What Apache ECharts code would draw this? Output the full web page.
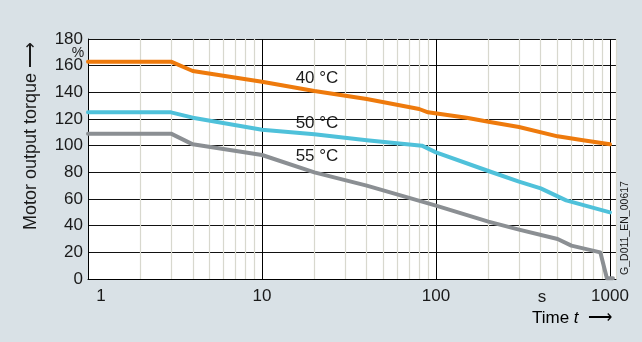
<!DOCTYPE html>
<html>
<head>
<meta charset="utf-8">
<script src="https://cdn.jsdelivr.net/npm/echarts@6/dist/echarts.min.js"></script>
<style>
html,body{margin:0;padding:0;background:#d9e1e6;}
#c{width:642px;height:342px;}
</style>
</head>
<body>
<div id="c"></div>
<script>
// ---- data ----
const xTickLabels = [1, 10, 100, 1000];
const yTickLabels = [0, 20, 40, 60, 80, 100, 120, 140, 160, 180];
const minorGridTimes = [2,3,4,5,6,7,8,9,20,30,40,50,60,70,80,90,200,300,400,500,600,700,800,900];
const seriesNames = ['40 °C', '50 °C', '55 °C'];

const time40   = [1, 3, 4, 10, 20, 40, 80, 90, 150, 200, 300, 500, 700, 1000];
const torque40 = [163, 163, 156, 148, 141, 135, 127.5, 125, 121, 118, 114, 107, 104, 101];

const time50   = [1, 3, 4, 10, 20, 40, 83, 100, 200, 300, 400, 560, 1000];
const torque50 = [125, 125, 121, 112, 108.5, 104, 100, 95, 81, 73, 68, 59, 50];

const time55   = [1, 3, 4, 10, 20, 40, 100, 200, 300, 500, 600, 880, 960, 1040];
const torque55 = [109, 109, 101, 93, 80, 70, 55, 43, 37, 30, 25, 20, 0.6, 0.6];

const pairs = (xs, ys) => xs.map((x, i) => [x, ys[i]]);

const chart = echarts.init(document.getElementById('c'), null, {renderer: 'canvas'});
const font = 'Liberation Sans, Arial, sans-serif';
const txt = '#1a1a1a';

function lineSeries(name, data, color) {
  return {
    name: name, type: 'line', data: data, showSymbol: false, z: 5,
    lineStyle: {color: color, width: 4, cap: 'round', join: 'round'},
    silent: true
  };
}

chart.setOption({
  backgroundColor: '#d9e1e6',
  animation: false,
  grid: {left: 88, right: 26, top: 39, bottom: 63, show: true, backgroundColor: '#ffffff', borderWidth: 0},
  xAxis: {
    type: 'log', logBase: 10, min: 1, max: 1083,
    axisLine: {show: true, lineStyle: {color: '#000', width: 1}},
    axisTick: {show: false},
    splitLine: {show: true, lineStyle: {color: '#000', width: 1}},
    axisLabel: {
      color: txt, fontSize: 17, fontFamily: font, margin: 9,
      showMaxLabel: false,
      formatter: function (v) {
        if (xTickLabels.indexOf(v) < 0) return '';
        return v === 1 ? '{a|1}' : String(v);
      },
      rich: {a: {fontSize: 17, fontFamily: font, color: txt, padding: [0, 0, 0, 26]}}
    }
  },
  yAxis: {
    type: 'value', min: 0, max: 180, interval: 20,
    axisLine: {show: true, lineStyle: {color: '#000', width: 1}},
    axisTick: {show: false},
    splitLine: {show: true, lineStyle: {color: '#111', width: 1}},
    axisLabel: {color: txt, fontSize: 17, fontFamily: font, margin: 5,
      formatter: function (v) { return yTickLabels.indexOf(v) >= 0 ? String(v) : ''; }}
  },
  series: [
    {
      type: 'line', data: [[1, 0]], showSymbol: false, z: 1, silent: true,
      lineStyle: {opacity: 0},
      markLine: {
        silent: true, symbol: ['none', 'none'], animation: false,
        label: {show: false},
        lineStyle: {color: '#d8d8ce', width: 1.2, type: 'solid'},
        data: minorGridTimes.concat([1083]).map(v => ({xAxis: v}))
      }
    },
    lineSeries(seriesNames[0], pairs(time40, torque40), '#ee7a0c'),
    lineSeries(seriesNames[1], pairs(time50, torque50), '#4fc1da'),
    lineSeries(seriesNames[2], pairs(time55, torque55), '#8b8f93')
  ],
  graphic: [
    {type: 'text', x: 31, y: 136, rotation: Math.PI / 2,
     style: {text: 'Motor output torque ⟶', font: '18px ' + font, fill: txt, align: 'center', verticalAlign: 'middle'}},
    {type: 'text', x: 78, y: 53,
     style: {text: '%', font: '14px ' + font, fill: txt, align: 'center', verticalAlign: 'middle'}},
    {type: 'text', x: 317, y: 78,
     style: {text: seriesNames[0], font: '17px ' + font, fill: txt, align: 'center', verticalAlign: 'middle'}},
    {type: 'text', x: 317, y: 123,
     style: {text: seriesNames[1], font: '17px ' + font, fill: txt, align: 'center', verticalAlign: 'middle'}},
    {type: 'text', x: 317, y: 156,
     style: {text: seriesNames[2], font: '17px ' + font, fill: txt, align: 'center', verticalAlign: 'middle'}},
    {type: 'text', x: 542, y: 297,
     style: {text: 's', font: '17px ' + font, fill: txt, align: 'center', verticalAlign: 'middle'}},
    {type: 'text', x: 612, y: 318,
     style: {text: '{n|Time }{i|t}{n|  ⟶}', align: 'right', verticalAlign: 'middle',
       rich: {n: {fontSize: 17, fontFamily: font, color: txt},
              i: {fontSize: 17, fontFamily: font, fontStyle: 'italic', color: txt}}}},
    {type: 'text', x: 625, y: 228, rotation: Math.PI / 2,
     style: {text: 'G_D011_EN_00617', font: '10.5px ' + font, fill: txt, align: 'center', verticalAlign: 'middle'}}
  ]
});
</script>
</body>
</html>
